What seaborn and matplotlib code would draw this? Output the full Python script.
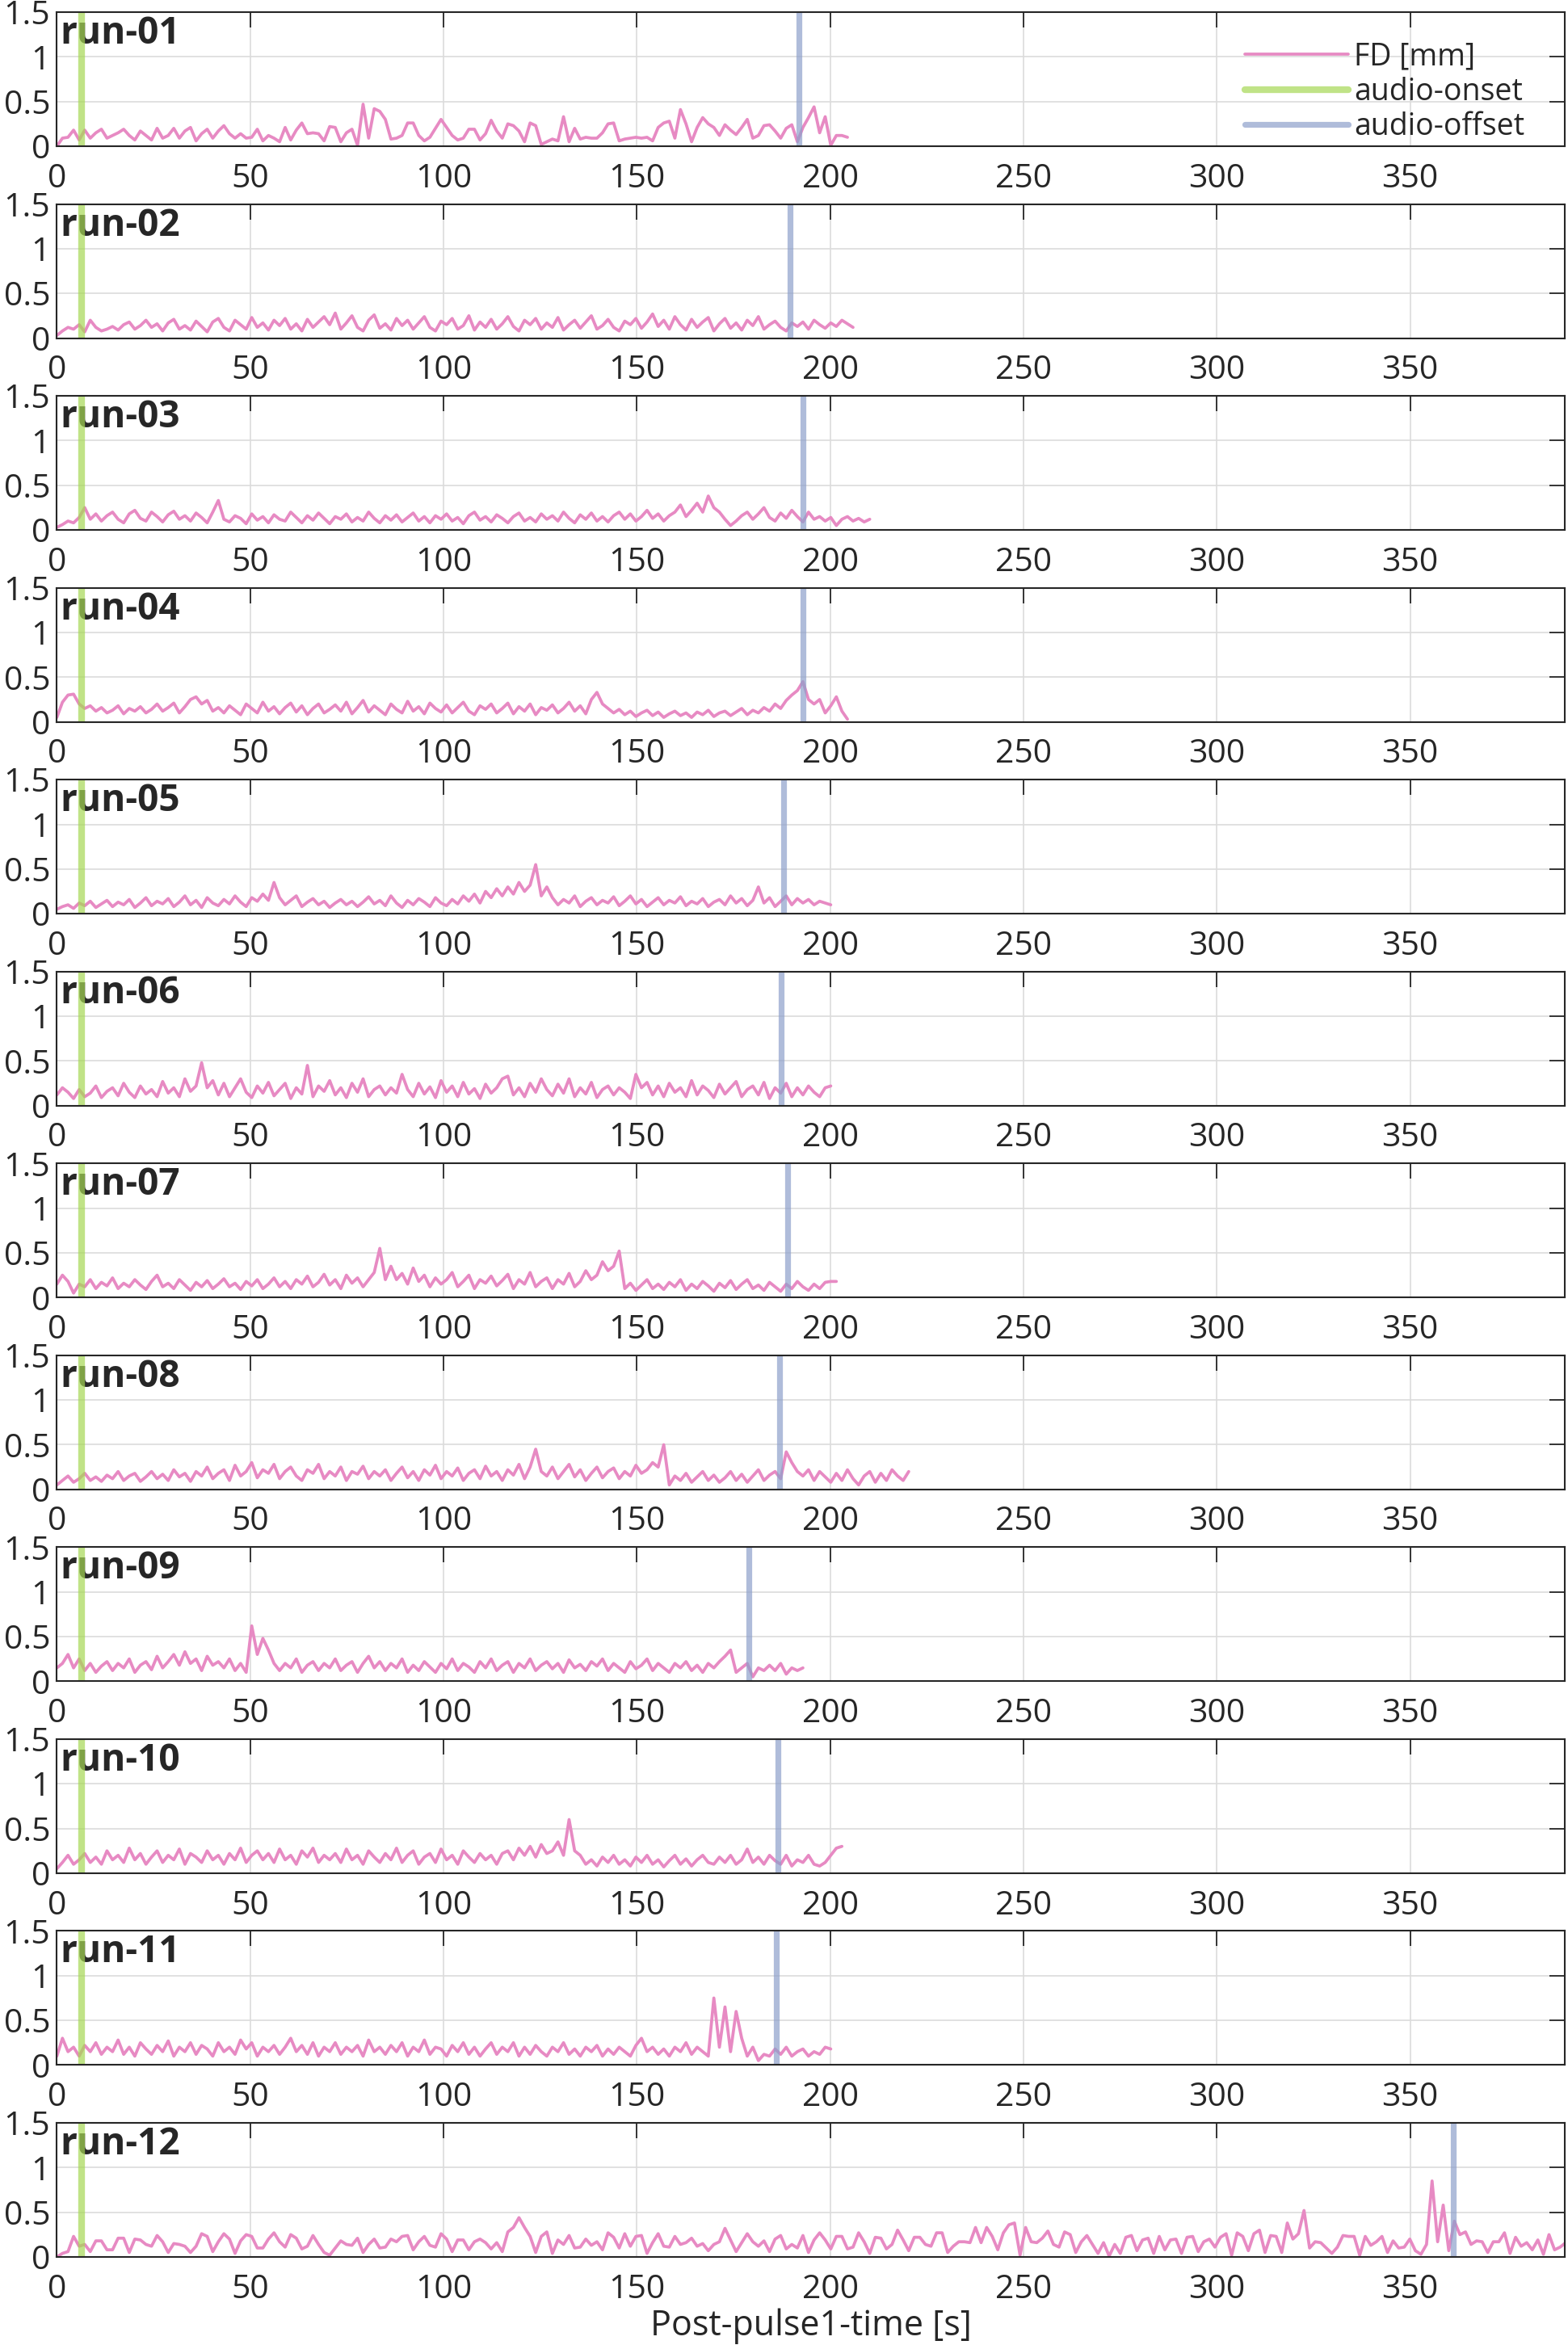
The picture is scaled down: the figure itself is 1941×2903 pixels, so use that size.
import numpy as np
import pandas as pd
import matplotlib
matplotlib.use('Agg')
import matplotlib.pyplot as plt
import seaborn as sns

# framewise displacement per run, one value every TR seconds
TR = 1.44

fd_run01 = [0, 0.09, 0.1, 0.18, 0.07, 0.18, 0.09, 0.15, 0.19, 0.09, 0.12, 0.15, 0.19, 0.12, 0.07, 0.17, 0.12, 0.07, 0.2, 0.09, 0.12, 0.2, 0.09, 0.17, 0.21,
            0.06, 0.14, 0.19, 0.09, 0.17, 0.23, 0.14, 0.09, 0.14, 0.09, 0.1, 0.19, 0.06, 0.12, 0.09, 0.05, 0.21, 0.07, 0.18, 0.26, 0.14, 0.15, 0.14, 0.06, 0.22, 0.21, 0.05, 0.15, 0.19,
            0.01, 0.47, 0.09, 0.42, 0.39, 0.30, 0.08, 0.09, 0.12, 0.26, 0.26, 0.12, 0.06, 0.1, 0.2, 0.3, 0.21, 0.12, 0.07, 0.09, 0.19, 0.19, 0.07, 0.14, 0.29, 0.17, 0.09,
            0.25, 0.23, 0.17, 0.05, 0.26, 0.23, 0.02, 0.05, 0.08, 0.06, 0.33, 0.05, 0.2, 0.08, 0.1, 0.09, 0.09, 0.15, 0.25, 0.26, 0.06, 0.08, 0.09, 0.1, 0.09, 0.1, 0.06, 0.21, 0.26,
            0.28, 0.09, 0.41, 0.25, 0.05, 0.21, 0.32, 0.25, 0.21, 0.12, 0.24, 0.18, 0.13, 0.21, 0.30, 0.09, 0.12, 0.23, 0.24, 0.17, 0.09, 0.2, 0.24, 0.05, 0.21, 0.32, 0.44,
            0.15, 0.33, 0.01, 0.12, 0.12, 0.1]

fd_run02 = [0.03, 0.08, 0.12, 0.1, 0.15, 0.07, 0.2, 0.12, 0.08, 0.1,
            0.13, 0.09, 0.15, 0.18, 0.1, 0.14, 0.2, 0.12, 0.16, 0.08,
            0.17, 0.21, 0.1, 0.14, 0.09, 0.19, 0.13, 0.07, 0.18, 0.22,
            0.12, 0.08, 0.2, 0.15, 0.1, 0.23, 0.12, 0.17, 0.09, 0.2,
            0.14, 0.22, 0.1, 0.16, 0.08, 0.21, 0.12, 0.18, 0.24, 0.15,
            0.28, 0.1, 0.17, 0.25, 0.12, 0.08, 0.2, 0.26, 0.11, 0.16,
            0.09, 0.22, 0.14, 0.2, 0.1, 0.17, 0.24, 0.12, 0.08, 0.19,
            0.15, 0.22, 0.1, 0.14, 0.25, 0.09, 0.18, 0.12, 0.21, 0.1,
            0.16, 0.24, 0.13, 0.08, 0.2, 0.15, 0.22, 0.1, 0.17, 0.12,
            0.23, 0.09, 0.15, 0.2, 0.11, 0.18, 0.25, 0.1, 0.14, 0.21,
            0.12, 0.08, 0.19, 0.15, 0.22, 0.11, 0.18, 0.27, 0.13, 0.2,
            0.1, 0.24, 0.15, 0.09, 0.21, 0.12, 0.18, 0.23, 0.08, 0.16,
            0.22, 0.11, 0.17, 0.09, 0.2, 0.14, 0.24, 0.1, 0.15, 0.19,
            0.12, 0.08, 0.17, 0.13, 0.18, 0.1, 0.2, 0.15, 0.11, 0.17,
            0.13, 0.2, 0.16, 0.12]

fd_run03 = [0.03, 0.06, 0.1, 0.08, 0.14, 0.25, 0.12, 0.18, 0.1, 0.16,
            0.2, 0.12, 0.08, 0.18, 0.22, 0.13, 0.1, 0.2, 0.15, 0.09,
            0.17, 0.21, 0.12, 0.16, 0.1, 0.19, 0.14, 0.08, 0.2, 0.33,
            0.12, 0.09, 0.16, 0.13, 0.07, 0.18, 0.11, 0.15, 0.08, 0.17,
            0.12, 0.1, 0.2, 0.14, 0.08, 0.16, 0.11, 0.19, 0.13, 0.07,
            0.15, 0.12, 0.18, 0.09, 0.14, 0.1, 0.2, 0.13, 0.08, 0.16,
            0.11, 0.17, 0.09, 0.14, 0.19, 0.1, 0.15, 0.08, 0.16, 0.12,
            0.18, 0.1, 0.14, 0.07, 0.16, 0.2, 0.11, 0.15, 0.09, 0.17,
            0.13, 0.08, 0.15, 0.19, 0.1, 0.14, 0.09, 0.18, 0.12, 0.16,
            0.1, 0.2, 0.13, 0.08, 0.17, 0.12, 0.19, 0.1, 0.15, 0.09,
            0.16, 0.2, 0.12, 0.18, 0.1, 0.15, 0.22, 0.13, 0.18, 0.1,
            0.16, 0.2, 0.28, 0.15, 0.22, 0.3, 0.2, 0.38, 0.25, 0.2,
            0.12, 0.05, 0.1, 0.16, 0.2, 0.12, 0.18, 0.25, 0.14, 0.1,
            0.19, 0.13, 0.22, 0.15, 0.09, 0.2, 0.12, 0.15, 0.1, 0.14,
            0.05, 0.12, 0.15, 0.1, 0.13, 0.09, 0.12]

fd_run04 = [0.05, 0.22, 0.3, 0.31, 0.2, 0.15, 0.18, 0.12, 0.16, 0.1,
            0.13, 0.18, 0.09, 0.15, 0.12, 0.17, 0.1, 0.14, 0.2, 0.12,
            0.16, 0.21, 0.1, 0.17, 0.25, 0.28, 0.2, 0.24, 0.12, 0.16,
            0.1, 0.18, 0.13, 0.08, 0.2, 0.15, 0.1, 0.22, 0.12, 0.17,
            0.09, 0.16, 0.21, 0.11, 0.18, 0.08, 0.15, 0.2, 0.1, 0.14,
            0.19, 0.12, 0.22, 0.09, 0.16, 0.24, 0.11, 0.18, 0.13, 0.08,
            0.2, 0.14, 0.1, 0.23, 0.12, 0.17, 0.09, 0.21, 0.15, 0.11,
            0.19, 0.1, 0.16, 0.22, 0.12, 0.08, 0.18, 0.14, 0.2, 0.1,
            0.15, 0.21, 0.09, 0.17, 0.12, 0.2, 0.08, 0.16, 0.13, 0.19,
            0.1, 0.15, 0.22, 0.12, 0.18, 0.09, 0.25, 0.33, 0.2, 0.15,
            0.1, 0.14, 0.08, 0.12, 0.06, 0.1, 0.13, 0.07, 0.11, 0.05,
            0.09, 0.12, 0.07, 0.1, 0.05, 0.11, 0.08, 0.13, 0.06, 0.1,
            0.12, 0.07, 0.11, 0.15, 0.08, 0.13, 0.1, 0.16, 0.12, 0.2,
            0.15, 0.24, 0.3, 0.35, 0.45, 0.25, 0.2, 0.25, 0.1, 0.18,
            0.28, 0.12, 0.03]

fd_run05 = [0.05, 0.08, 0.1, 0.06, 0.12, 0.09, 0.14, 0.07, 0.11, 0.15,
            0.08, 0.13, 0.1, 0.16, 0.07, 0.12, 0.18, 0.09, 0.14, 0.11,
            0.17, 0.08, 0.13, 0.2, 0.1, 0.15, 0.07, 0.18, 0.12, 0.09,
            0.16, 0.11, 0.2, 0.13, 0.08, 0.18, 0.14, 0.22, 0.15, 0.35,
            0.18, 0.1, 0.15, 0.2, 0.08, 0.13, 0.17, 0.1, 0.14, 0.07,
            0.12, 0.16, 0.1, 0.14, 0.08, 0.13, 0.19, 0.11, 0.15, 0.09,
            0.2, 0.12, 0.07, 0.15, 0.1, 0.17, 0.13, 0.08, 0.18, 0.12,
            0.09, 0.16, 0.11, 0.2, 0.14, 0.22, 0.12, 0.25, 0.18, 0.28,
            0.2, 0.3, 0.22, 0.35, 0.25, 0.32, 0.55, 0.2, 0.3, 0.18,
            0.1, 0.16, 0.12, 0.2, 0.08, 0.14, 0.18, 0.1, 0.15, 0.12,
            0.19, 0.09, 0.14, 0.2, 0.11, 0.16, 0.08, 0.13, 0.18, 0.1,
            0.15, 0.12, 0.19, 0.09, 0.14, 0.11, 0.17, 0.08, 0.13, 0.16,
            0.1, 0.2, 0.12, 0.17, 0.09, 0.15, 0.3, 0.12, 0.18, 0.08,
            0.14, 0.2, 0.1, 0.17, 0.12, 0.16, 0.1, 0.14, 0.12, 0.1]

fd_run06 = [0.12, 0.2, 0.15, 0.08, 0.18, 0.1, 0.14, 0.22, 0.09, 0.16,
            0.2, 0.11, 0.25, 0.15, 0.09, 0.22, 0.13, 0.18, 0.1, 0.27,
            0.14, 0.2, 0.1, 0.3, 0.16, 0.22, 0.48, 0.2, 0.28, 0.12,
            0.25, 0.1, 0.2, 0.3, 0.15, 0.09, 0.22, 0.14, 0.26, 0.11,
            0.18, 0.25, 0.08, 0.2, 0.13, 0.45, 0.1, 0.22, 0.16, 0.28,
            0.12, 0.2, 0.09, 0.25, 0.15, 0.3, 0.1, 0.18, 0.22, 0.12,
            0.2, 0.14, 0.35, 0.18, 0.1, 0.25, 0.13, 0.21, 0.09, 0.28,
            0.15, 0.22, 0.1, 0.26, 0.13, 0.19, 0.08, 0.24, 0.14, 0.2,
            0.3, 0.33, 0.12, 0.2, 0.1, 0.25, 0.15, 0.3, 0.18, 0.11,
            0.24, 0.14, 0.3, 0.1, 0.2, 0.13, 0.26, 0.09, 0.18, 0.22,
            0.12, 0.2, 0.15, 0.08, 0.35, 0.2, 0.26, 0.12, 0.22, 0.1,
            0.25, 0.15, 0.2, 0.1, 0.28, 0.12, 0.22, 0.17, 0.09, 0.24,
            0.13, 0.2, 0.27, 0.1, 0.18, 0.22, 0.12, 0.26, 0.08, 0.2,
            0.14, 0.25, 0.1, 0.2, 0.12, 0.22, 0.15, 0.1, 0.2, 0.22]

fd_run07 = [0.15, 0.25, 0.18, 0.05, 0.15, 0.12, 0.2, 0.1, 0.17, 0.13,
            0.22, 0.1, 0.16, 0.12, 0.2, 0.14, 0.09, 0.18, 0.25, 0.12,
            0.16, 0.1, 0.2, 0.14, 0.08, 0.17, 0.12, 0.19, 0.1, 0.15,
            0.21, 0.12, 0.16, 0.09, 0.18, 0.13, 0.2, 0.1, 0.15, 0.22,
            0.12, 0.18, 0.1, 0.2, 0.15, 0.24, 0.12, 0.17, 0.26, 0.14,
            0.2, 0.1, 0.25, 0.16, 0.22, 0.12, 0.2, 0.28, 0.55, 0.2,
            0.35, 0.2, 0.27, 0.15, 0.33, 0.18, 0.25, 0.12, 0.22, 0.15,
            0.2, 0.28, 0.12, 0.18, 0.25, 0.1, 0.2, 0.16, 0.24, 0.13,
            0.19, 0.26, 0.1, 0.2, 0.15, 0.28, 0.12, 0.18, 0.22, 0.1,
            0.2, 0.15, 0.27, 0.12, 0.18, 0.3, 0.2, 0.25, 0.4, 0.3,
            0.35, 0.52, 0.1, 0.16, 0.08, 0.14, 0.2, 0.1, 0.15, 0.09,
            0.17, 0.12, 0.2, 0.08, 0.15, 0.1, 0.18, 0.13, 0.07, 0.16,
            0.11, 0.19, 0.09, 0.15, 0.2, 0.1, 0.14, 0.08, 0.17, 0.12,
            0.07, 0.15, 0.1, 0.18, 0.12, 0.08, 0.15, 0.1, 0.17, 0.18,
            0.18]

fd_run08 = [0.05, 0.1, 0.15, 0.08, 0.12, 0.18, 0.1, 0.14, 0.09, 0.16,
            0.12, 0.2, 0.1, 0.15, 0.18, 0.09, 0.14, 0.2, 0.12, 0.17,
            0.1, 0.22, 0.14, 0.18, 0.09, 0.2, 0.15, 0.25, 0.12, 0.18,
            0.22, 0.1, 0.27, 0.15, 0.2, 0.3, 0.13, 0.22, 0.18, 0.28,
            0.12, 0.2, 0.25, 0.15, 0.1, 0.22, 0.18, 0.28, 0.12, 0.2,
            0.15, 0.25, 0.1, 0.2, 0.17, 0.26, 0.12, 0.2, 0.15, 0.22,
            0.1, 0.18, 0.25, 0.13, 0.2, 0.1, 0.22, 0.16, 0.27, 0.12,
            0.2, 0.15, 0.24, 0.1, 0.18, 0.22, 0.12, 0.26, 0.15, 0.2,
            0.1, 0.22, 0.16, 0.28, 0.12, 0.25, 0.45, 0.2, 0.15, 0.25,
            0.12, 0.2, 0.28, 0.14, 0.22, 0.1, 0.18, 0.25, 0.13, 0.2,
            0.24, 0.12, 0.2, 0.15, 0.27, 0.18, 0.22, 0.3, 0.25, 0.5,
            0.05, 0.15, 0.1, 0.18, 0.08, 0.14, 0.2, 0.1, 0.16, 0.08,
            0.13, 0.2, 0.1, 0.17, 0.08, 0.15, 0.22, 0.1, 0.16, 0.2,
            0.12, 0.42, 0.3, 0.2, 0.15, 0.22, 0.1, 0.2, 0.14, 0.08,
            0.18, 0.1, 0.22, 0.12, 0.05, 0.15, 0.2, 0.08, 0.18, 0.1,
            0.22, 0.15, 0.1, 0.2]

fd_run09 = [0.15, 0.2, 0.3, 0.15, 0.25, 0.12, 0.2, 0.1, 0.17, 0.22,
            0.12, 0.2, 0.15, 0.25, 0.1, 0.18, 0.22, 0.13, 0.28, 0.15,
            0.22, 0.3, 0.18, 0.33, 0.2, 0.25, 0.12, 0.28, 0.18, 0.22,
            0.15, 0.25, 0.12, 0.2, 0.1, 0.62, 0.3, 0.48, 0.35, 0.2,
            0.12, 0.2, 0.15, 0.25, 0.1, 0.18, 0.22, 0.12, 0.2, 0.15,
            0.25, 0.12, 0.18, 0.22, 0.1, 0.2, 0.28, 0.15, 0.22, 0.12,
            0.2, 0.15, 0.25, 0.1, 0.18, 0.12, 0.22, 0.16, 0.1, 0.2,
            0.14, 0.25, 0.12, 0.2, 0.16, 0.1, 0.22, 0.15, 0.25, 0.12,
            0.18, 0.22, 0.1, 0.2, 0.15, 0.25, 0.12, 0.18, 0.22, 0.14,
            0.2, 0.1, 0.24, 0.15, 0.19, 0.12, 0.22, 0.17, 0.25, 0.12,
            0.2, 0.15, 0.1, 0.22, 0.14, 0.18, 0.25, 0.12, 0.2, 0.15,
            0.1, 0.2, 0.15, 0.22, 0.12, 0.18, 0.1, 0.2, 0.15, 0.22,
            0.28, 0.35, 0.1, 0.15, 0.2, 0.05, 0.15, 0.12, 0.18, 0.12,
            0.2, 0.08, 0.15, 0.12, 0.15]

fd_run10 = [0.05, 0.12, 0.2, 0.1, 0.15, 0.22, 0.12, 0.18, 0.1, 0.25,
            0.15, 0.2, 0.12, 0.28, 0.15, 0.22, 0.1, 0.18, 0.25, 0.12,
            0.2, 0.15, 0.27, 0.1, 0.22, 0.18, 0.12, 0.25, 0.15, 0.2,
            0.1, 0.22, 0.15, 0.28, 0.12, 0.2, 0.25, 0.15, 0.22, 0.12,
            0.27, 0.15, 0.2, 0.1, 0.25, 0.18, 0.28, 0.12, 0.2, 0.15,
            0.22, 0.12, 0.27, 0.15, 0.2, 0.1, 0.25, 0.18, 0.12, 0.22,
            0.15, 0.28, 0.12, 0.2, 0.25, 0.1, 0.18, 0.22, 0.12, 0.27,
            0.15, 0.2, 0.1, 0.25, 0.18, 0.12, 0.22, 0.15, 0.2, 0.1,
            0.22, 0.25, 0.15, 0.28, 0.2, 0.3, 0.18, 0.32, 0.22, 0.25,
            0.35, 0.2, 0.6, 0.25, 0.2, 0.1, 0.15, 0.08, 0.18, 0.12,
            0.2, 0.1, 0.15, 0.08, 0.18, 0.12, 0.2, 0.1, 0.15, 0.07,
            0.14, 0.2, 0.1, 0.16, 0.08, 0.15, 0.2, 0.12, 0.1, 0.18,
            0.12, 0.2, 0.1, 0.15, 0.27, 0.12, 0.18, 0.1, 0.2, 0.14,
            0.1, 0.2, 0.08, 0.15, 0.12, 0.2, 0.1, 0.08, 0.12, 0.2,
            0.28, 0.3]

fd_run11 = [0.1, 0.3, 0.15, 0.2, 0.1, 0.22, 0.15, 0.25, 0.12, 0.2,
            0.15, 0.28, 0.12, 0.2, 0.1, 0.25, 0.18, 0.12, 0.22, 0.15,
            0.27, 0.1, 0.2, 0.15, 0.25, 0.12, 0.22, 0.18, 0.1, 0.25,
            0.15, 0.2, 0.12, 0.28, 0.18, 0.25, 0.1, 0.2, 0.15, 0.22,
            0.12, 0.2, 0.3, 0.15, 0.22, 0.12, 0.25, 0.1, 0.2, 0.15,
            0.25, 0.12, 0.2, 0.15, 0.22, 0.1, 0.28, 0.15, 0.2, 0.12,
            0.22, 0.15, 0.25, 0.1, 0.2, 0.15, 0.28, 0.12, 0.2, 0.18,
            0.1, 0.22, 0.15, 0.25, 0.12, 0.2, 0.1, 0.18, 0.25, 0.12,
            0.2, 0.15, 0.25, 0.1, 0.2, 0.12, 0.22, 0.15, 0.1, 0.2,
            0.15, 0.25, 0.12, 0.18, 0.1, 0.2, 0.15, 0.22, 0.1, 0.18,
            0.12, 0.2, 0.15, 0.1, 0.22, 0.3, 0.15, 0.2, 0.12, 0.18,
            0.1, 0.2, 0.15, 0.25, 0.12, 0.2, 0.15, 0.1, 0.75, 0.2,
            0.65, 0.15, 0.6, 0.3, 0.1, 0.2, 0.05, 0.12, 0.1, 0.18,
            0.12, 0.2, 0.1, 0.15, 0.18, 0.1, 0.15, 0.12, 0.2, 0.18]

fd_run12 = [0, 0.04, 0.06, 0.23, 0.12, 0.14, 0.06, 0.18, 0.18, 0.08,
            0.08, 0.21, 0.21, 0.05, 0.2, 0.19, 0.14, 0.12, 0.24, 0.17,
            0.05, 0.15, 0.14, 0.12, 0.05, 0.12, 0.26, 0.23, 0.06, 0.17,
            0.26, 0.2, 0.04, 0.18, 0.25, 0.23, 0.1, 0.1, 0.2, 0.27,
            0.17, 0.11, 0.25, 0.21, 0.09, 0.12, 0.24, 0.14, 0.05, 0.02,
            0.1, 0.18, 0.14, 0.13, 0.21, 0.05, 0.14, 0.2, 0.1, 0.11,
            0.2, 0.17, 0.23, 0.24, 0.08, 0.17, 0.23, 0.13, 0.11, 0.26,
            0.2, 0.06, 0.19, 0.19, 0.08, 0.17, 0.2, 0.16, 0.09, 0.16,
            0.06, 0.28, 0.33, 0.44, 0.33, 0.23, 0.05, 0.23, 0.28, 0.04,
            0.19,
            0.14, 0.24, 0.1, 0.11, 0.2, 0.13, 0.17, 0.08, 0.27, 0.22,
            0.1, 0.26, 0.12, 0.23, 0.24, 0.04, 0.16, 0.26, 0.12, 0.11,
            0.23, 0.14, 0.16, 0.21, 0.12, 0.15, 0.07, 0.14, 0.17, 0.32,
            0.19, 0.06, 0.16, 0.26, 0.17, 0.12, 0.18, 0.06, 0.2, 0.24,
            0.09, 0.14, 0.1, 0.24, 0.05, 0.19, 0.27, 0.19, 0.09, 0.23,
            0.23, 0.09, 0.11, 0.27, 0.17, 0.04, 0.22, 0.21, 0.09, 0.14,
            0.3, 0.19, 0.07, 0.22, 0.22, 0.14, 0.12, 0.27, 0.27, 0.05,
            0.12, 0.17, 0.17, 0.16, 0.33, 0.16, 0.33, 0.23, 0.08, 0.27,
            0.36, 0.38, 0.02, 0.33, 0.17, 0.16, 0.21, 0.29,
            0.14, 0.11, 0.28, 0.25, 0.05, 0.17, 0.24, 0.14, 0.04, 0.16,
            0.01, 0.14, 0.04, 0.22, 0.24, 0.07, 0.19, 0.21, 0.04, 0.23,
            0.08, 0.19, 0.2, 0.04, 0.22, 0.23, 0.06, 0.17, 0.2, 0.11,
            0.22, 0.26, 0.02, 0.27, 0.23, 0.07, 0.26, 0.3, 0.05, 0.24,
            0.23, 0.05, 0.38, 0.2, 0.26, 0.52, 0.1, 0.17, 0.16, 0.1,
            0.04, 0.11, 0.24, 0.23, 0.23, 0.02, 0.23, 0.13, 0.17, 0.23,
            0.05, 0.18, 0.1, 0.11, 0.2, 0.07, 0.03, 0.14, 0.85, 0.17,
            0.58, 0.07, 0.4, 0.25, 0.28, 0.14, 0.18, 0.17, 0.05, 0.17,
            0.17, 0.27, 0.04, 0.22, 0.12, 0.16, 0.08, 0.19, 0.03, 0.25,
            0.08, 0.11, 0.16]

run_labels = ['run-01', 'run-02', 'run-03', 'run-04', 'run-05', 'run-06',
              'run-07', 'run-08', 'run-09', 'run-10', 'run-11', 'run-12']
onset_s = [6.4, 6.4, 6.4, 6.4, 6.4, 6.4, 6.4, 6.4, 6.4, 6.4, 6.4, 6.4]
offset_s = [192, 189.7, 193, 193, 188, 187.4, 189, 187, 179, 186.6, 186, 361.2]

xticks = [0, 50, 100, 150, 200, 250, 300, 350]
yticks = [0, 0.5, 1, 1.5]
ytick_labels = ['0', '0.5', '1', '1.5']

fd_runs = [fd_run01, fd_run02, fd_run03, fd_run04, fd_run05, fd_run06,
           fd_run07, fd_run08, fd_run09, fd_run10, fd_run11, fd_run12]

pink = '#e78ac3'
green = '#a6d854'
blue = '#8da0cb'
dark = '#262626'

sns.set_theme(style='white')
plt.rcParams['font.family'] = ['Open Sans', 'DejaVu Sans']
plt.rcParams['text.color'] = dark
plt.rcParams['axes.labelcolor'] = dark
plt.rcParams['xtick.color'] = dark
plt.rcParams['ytick.color'] = dark

W, H = 1941, 2903
fig, axes = plt.subplots(12, 1, figsize=(W / 100, H / 100), dpi=100)
fig.subplots_adjust(left=70.4 / W, right=1937 / W, top=1 - 15 / H,
                    bottom=1 - 2794 / H, hspace=0.431)

for i, ax in enumerate(axes):
    df = pd.DataFrame({'time': np.arange(len(fd_runs[i])) * TR, 'fd': fd_runs[i]})
    sns.lineplot(data=df, x='time', y='fd', ax=ax, color=pink, lw=2.7,
                 errorbar=None, sort=False, label='FD [mm]', legend=False)
    on = ax.axvline(onset_s[i], color=green, alpha=0.7, lw=6, label='audio-onset')
    off = ax.axvline(offset_s[i], color=blue, alpha=0.7, lw=5.2, label='audio-offset')

    ax.set_xlim(0, 390)
    ax.set_ylim(0, 1.5)
    ax.set_xticks(xticks)
    ax.set_xticklabels([str(t) for t in xticks])
    ax.set_yticks(yticks)
    ax.set_yticklabels(ytick_labels)
    ax.grid(True, color='#dcdcdc', lw=1.2)
    ax.set_axisbelow(True)
    ax.tick_params(axis='both', direction='in', top=True, right=True,
                   length=13.4, width=1.3, labelsize=29.5, color=dark)
    ax.tick_params(axis='x', pad=14.5)
    ax.tick_params(axis='y', pad=6)
    for sp in ax.spines.values():
        sp.set_color(dark)
        sp.set_linewidth(1.5)
    ax.set_xlabel('')
    ax.set_ylabel('')
    ax.text(0.002, 0.765, run_labels[i], transform=ax.transAxes, fontsize=33,
            fontweight='bold', ha='left', va='baseline', zorder=1)

    if i == 0:
        handles = [ax.lines[0], on, off]
        leg = ax.legend(handles=handles, labels=['FD [mm]', 'audio-onset', 'audio-offset'],
                        loc='upper left', bbox_to_anchor=(0.788, 0.78), frameon=False,
                        fontsize=27, handlelength=3.4, handletextpad=0.2,
                        labelspacing=0.14, borderpad=0, borderaxespad=0)

axes[-1].set_xlabel('Post-pulse1-time [s]', fontsize=31, labelpad=2)

fig.savefig('out.png', dpi=100)
